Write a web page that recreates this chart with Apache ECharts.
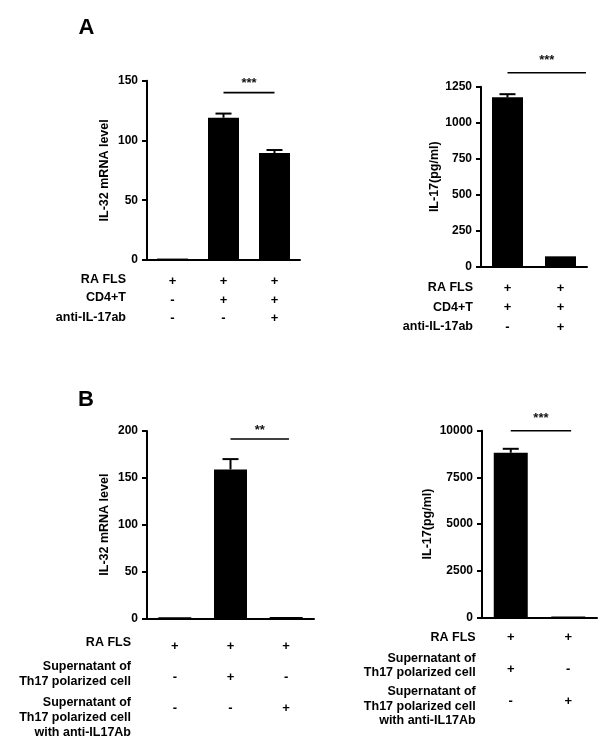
<!DOCTYPE html>
<html>
<head>
<meta charset="utf-8">
<script src="https://cdn.jsdelivr.net/npm/echarts@6/dist/echarts.min.js"></script>
<style>
  html, body { margin: 0; padding: 0; background: #fff; }
  #chart { width: 612px; height: 751px; }
</style>
</head>
<body>
<div id="chart"></div>
<script>
// panel A, left: IL-32 mRNA
const catsALeft = ['c1', 'c2', 'c3']
const il32ALeft = [1.2, 119, 89.5]
const il32ALeftErr = [0, 3.5, 2.5]
const axisALeft = [0, 150, 50]
const rowsALeft = ['RA FLS', 'CD4+T', 'anti-IL-17ab']
const signsALeft = [['+', '+', '+'], ['-', '+', '+'], ['-', '-', '+']]
const sigALeft = [1, 2, 140, '***']

// panel A, right: IL-17
const catsARight = ['c1', 'c2']
const il17ARight = [1176, 72]
const il17ARightErr = [22, 0]
const axisARight = [0, 1250, 250]
const rowsARight = ['RA FLS', 'CD4+T', 'anti-IL-17ab']
const signsARight = [['+', '+'], ['+', '+'], ['-', '+']]
const sigARight = [0, 1.48, 1347, '***']

// panel B, left: IL-32 mRNA
const catsBLeft = ['c1', 'c2', 'c3']
const il32BLeft = [1, 159, 1.5]
const il32BLeftErr = [0, 11, 0]
const axisBLeft = [0, 200, 50]
const rowsBLeft = ['RA FLS', 'Supernatant of\nTh17 polarized cell', 'Supernatant of\nTh17 polarized cell\nwith anti-IL17Ab']
const signsBLeft = [['+', '+', '+'], ['-', '+', '-'], ['-', '-', '+']]
const sigBLeft = [1, 2.05, 191.5, '**']

// panel B, right: IL-17
const catsBRight = ['c1', 'c2']
const il17BRight = [8820, 40]
const il17BRightErr = [210, 0]
const axisBRight = [0, 10000, 2500]
const rowsBRight = ['RA FLS', 'Supernatant of\nTh17 polarized cell', 'Supernatant of\nTh17 polarized cell\nwith anti-IL17Ab']
const signsBRight = [['+', '+'], ['+', '-'], ['-', '+']]
const sigBRight = [0, 1.05, 10000, '***']

const FONT = 'Liberation Sans, Arial, sans-serif'

const panels = [
  { grid: { left: 147, top: 80.7, width: 153, height: 179.3 }, cats: catsALeft, values: il32ALeft, errs: il32ALeftErr,
    axis: axisALeft, signs: signsALeft, sig: sigALeft, name: 'IL-32 mRNA level', nameGap: 36, barWidth: 31,
    labelMargin: 12.5, lineHeight: 18.5, sep: '\n', starLift: 9 },
  { grid: { left: 481, top: 86.7, width: 106, height: 180 }, cats: catsARight, values: il17ARight, errs: il17ARightErr,
    axis: axisARight, signs: signsARight, sig: sigARight, name: 'IL-17(pg/ml)', nameGap: 33, barWidth: 31,
    labelMargin: 11.5, lineHeight: 19.5, sep: '\n', starLift: 12 },
  { grid: { left: 147, top: 431, width: 167, height: 187.3 }, cats: catsBLeft, values: il32BLeft, errs: il32BLeftErr,
    axis: axisBLeft, signs: signsBLeft, sig: sigBLeft, name: 'IL-32 mRNA level', nameGap: 36, barWidth: 33,
    labelMargin: 20, lineHeight: 15.5, sep: '\n\n', starLift: 9 },
  { grid: { left: 482, top: 430.7, width: 115, height: 186.6 }, cats: catsBRight, values: il17BRight, errs: il17BRightErr,
    axis: axisBRight, signs: signsBRight, sig: sigBRight, name: 'IL-17(pg/ml)', nameGap: 48, barWidth: 34,
    labelMargin: 12, lineHeight: 16, sep: '\n\n', starLift: 12 }
]

// row captions: right edge x, centre y of each line, line spacing
const rowLayout = [
  { rows: rowsALeft, x: 126, y: [280, 298, 318], step: 15 },
  { rows: rowsARight, x: 473, y: [288, 308, 327], step: 15 },
  { rows: rowsBLeft, x: 131, y: [642.7, 666.7, 703], step: 15 },
  { rows: rowsBRight, x: 475.7, y: [637.3, 658.3, 691.7], step: 14.5 }
]

const grids = []
const xAxes = []
const yAxes = []
const series = []

panels.forEach((p, k) => {
  grids.push(Object.assign({ outerBoundsMode: 'none', containLabel: false }, p.grid))
  xAxes.push({
    type: 'category',
    gridIndex: k,
    data: p.cats,
    axisTick: { show: false },
    axisLine: { lineStyle: { color: '#000', width: 2 } },
    axisLabel: {
      interval: 0,
      margin: p.labelMargin,
      color: '#000',
      fontFamily: FONT,
      fontWeight: 'bold',
      fontSize: 13,
      lineHeight: p.lineHeight,
      formatter: (v, i) => p.signs.map(r => r[i]).join(p.sep)
    }
  })
  yAxes.push({
    type: 'value',
    gridIndex: k,
    min: p.axis[0],
    max: p.axis[1],
    interval: p.axis[2],
    name: p.name,
    nameLocation: 'middle',
    nameGap: p.nameGap,
    nameTextStyle: { color: '#000', fontFamily: FONT, fontWeight: 'bold', fontSize: 12.5 },
    splitLine: { show: false },
    axisLine: { show: true, lineStyle: { color: '#000', width: 2 } },
    axisTick: { show: true, length: 5, lineStyle: { color: '#000', width: 2 } },
    axisLabel: { color: '#000', fontFamily: FONT, fontWeight: 'bold', fontSize: 12, margin: 9, formatter: v => String(v) }
  })
  series.push({
    type: 'bar',
    xAxisIndex: k,
    yAxisIndex: k,
    data: p.values,
    barWidth: p.barWidth,
    itemStyle: { color: '#000' },
    silent: true
  })
  // error bars (upper half only)
  series.push({
    type: 'custom',
    xAxisIndex: k,
    yAxisIndex: k,
    encode: { x: 0, y: 1 },
    data: p.values.map((v, i) => [i, v, p.errs[i]]),
    z: 3,
    renderItem: (params, api) => {
      const e = api.value(2)
      if (!e) return
      const base = api.coord([api.value(0), api.value(1)])
      const top = api.coord([api.value(0), api.value(1) + e])
      const cap = 8
      const st = { stroke: '#000', lineWidth: 2 }
      return {
        type: 'group',
        children: [
          { type: 'line', shape: { x1: top[0], y1: base[1], x2: top[0], y2: top[1] }, style: st },
          { type: 'line', shape: { x1: top[0] - cap, y1: top[1], x2: top[0] + cap, y2: top[1] }, style: st }
        ]
      }
    }
  })
  // significance line and stars
  series.push({
    type: 'custom',
    xAxisIndex: k,
    yAxisIndex: k,
    encode: { x: 0, y: 1 },
    data: [[p.sig[0], p.sig[2]]],
    z: 4,
    renderItem: (params, api) => {
      const band = api.size([1, 0])[0]
      const xAt = v => api.coord([Math.floor(v), 0])[0] + (v - Math.floor(v)) * band
      const x1 = xAt(p.sig[0])
      const x2 = xAt(p.sig[1])
      const y = api.coord([0, p.sig[2]])[1]
      return {
        type: 'group',
        children: [
          { type: 'line', shape: { x1: x1, y1: y, x2: x2, y2: y }, style: { stroke: '#000', lineWidth: 1.6 } },
          { type: 'text', x: (x1 + x2) / 2, y: y - p.starLift,
            style: { text: p.sig[3], fill: '#111', font: 'bold 13px ' + FONT, textAlign: 'center', textVerticalAlign: 'middle' } }
        ]
      }
    }
  })
})

const graphics = [
  { type: 'text', x: 86.5, y: 27.5, style: { text: 'A', fill: '#000', font: 'bold 22px ' + FONT, textAlign: 'center', textVerticalAlign: 'middle' } },
  { type: 'text', x: 86, y: 399.5, style: { text: 'B', fill: '#000', font: 'bold 22px ' + FONT, textAlign: 'center', textVerticalAlign: 'middle' } }
]
rowLayout.forEach(r => {
  r.rows.forEach((txt, i) => {
    txt.split('\n').forEach((line, j) => {
      graphics.push({
        type: 'text',
        x: r.x,
        y: r.y[i] + j * r.step,
        style: { text: line, fill: '#000', font: 'bold 12.5px ' + FONT, textAlign: 'right', textVerticalAlign: 'middle' }
      })
    })
  })
})

const chart = echarts.init(document.getElementById('chart'))
chart.setOption({
  backgroundColor: '#fff',
  animation: false,
  grid: grids,
  xAxis: xAxes,
  yAxis: yAxes,
  series: series,
  graphic: graphics
})
</script>
</body>
</html>
